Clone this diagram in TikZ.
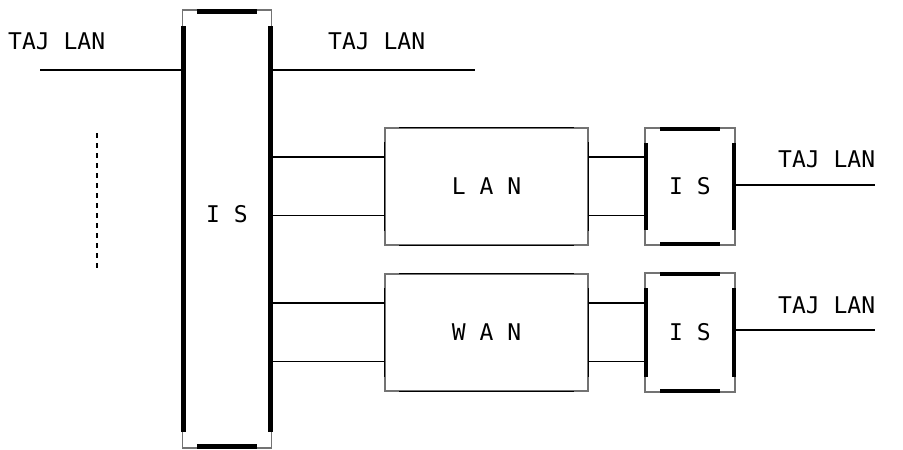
\documentclass[tikz,border=0pt]{standalone}
\usepackage{fontspec}
\setmonofont{DejaVu Sans Mono}
\usetikzlibrary{calc}
\tikzset{
  lbl/.style={font=\ttfamily\fontsize{23}{26}\selectfont, inner sep=0pt},
  boxframe/.style={draw=black!55, line width=1.3pt, minimum width=#1, inner sep=0pt},
  wire/.style={line width=1.6pt},
  heavy/.style={line width=#1},
}
\begin{document}
\begin{tikzpicture}[x=1pt,y=-1pt]
\useasboundingbox (0,0) rectangle (903,450);
% boxes
\node[boxframe=89pt, minimum height=438pt] (bigis) at (227,229) {};
\node[boxframe=203pt, minimum height=117pt] (lan) at (486.5,186.5) {};
\node[boxframe=203pt, minimum height=117pt] (wan) at (486.5,332.5) {};
\node[boxframe=90pt, minimum height=117pt] (is1) at (690,186.5) {};
\node[boxframe=90pt, minimum height=119pt] (is2) at (690,332.5) {};
% heavy edges (corners left thin), drawn inward of the frame
\foreach \n/\w/\dx/\dy/\s in {bigis/5pt/15/17/1.85, is1/4pt/16/16/1.35, is2/4pt/16/16/1.35, lan/1.5pt/15/15/0.1, wan/1.5pt/15/15/0.1}{
  \draw[heavy=\w] ($(\n.north west)+(\dx,\s)$) -- ($(\n.north east)+(-\dx,\s)$);
  \draw[heavy=\w] ($(\n.south west)+(\dx,-\s)$) -- ($(\n.south east)+(-\dx,-\s)$);
  \draw[heavy=\w] ($(\n.north west)+(\s,\dy)$) -- ($(\n.south west)+(\s,-\dy)$);
  \draw[heavy=\w] ($(\n.north east)+(-\s,\dy)$) -- ($(\n.south east)+(-\s,-\dy)$);
}
% labels inside boxes
\node[lbl] (tis) at (bigis.center |- 0,214.5) {I S};
\node[lbl] (tlan) at (lan.center) {L A N};
\node[lbl] (twan) at (wan.center) {W A N};
\node[lbl] (tis1) at (is1.center) {I S};
\node[lbl] (tis2) at (is2.center) {I S};
% outside labels
\node[lbl, anchor=base west] (taj1) at (8,49) {TAJ LAN};
\node[lbl, anchor=base west] (taj2) at (328,49) {TAJ LAN};
\node[lbl, anchor=base west] (taj3) at (778,167) {TAJ LAN};
\node[lbl, anchor=base west] (taj4) at (778,313) {TAJ LAN};
% coordinates
\coordinate (tl) at (40,70);
\coordinate (tr) at (475,70);
\coordinate (r1) at (875,185);
\coordinate (r2) at (875,330);
\coordinate (d1) at (97,133);
\coordinate (d2) at (97,271);
\coordinate (l1) at ($(lan.north west)!0.25!(lan.south west)$);
\coordinate (l2) at ($(lan.north west)!0.745!(lan.south west)$);
\coordinate (w1) at ($(wan.north west)!0.25!(wan.south west)$);
\coordinate (w2) at ($(wan.north west)!0.745!(wan.south west)$);
% wires
\draw[wire] (tl) -- (tl -| bigis.west);
\draw[wire] (bigis.east |- tl) -- (tr);
\draw[wire] (bigis.east |- l1) -- (l1);
\draw[wire] (bigis.east |- l2) -- (l2);
\draw[wire] (bigis.east |- w1) -- (w1);
\draw[wire] (bigis.east |- w2) -- (w2);
\draw[wire] (lan.east |- l1) -- (is1.west |- l1);
\draw[wire] (lan.east |- l2) -- (is1.west |- l2);
\draw[wire] (wan.east |- w1) -- (is2.west |- w1);
\draw[wire] (wan.east |- w2) -- (is2.west |- w2);
\draw[wire] (is1.east |- r1) -- (r1);
\draw[wire] (is2.east |- r2) -- (r2);
\draw[line width=2.4pt, dash pattern=on 5pt off 5pt] (d1) -- (d2);
\end{tikzpicture}
\end{document}
